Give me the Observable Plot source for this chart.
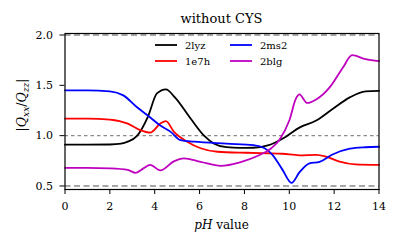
<!DOCTYPE html>
<html><head><meta charset="utf-8">
<script src="https://cdn.jsdelivr.net/npm/d3@7"></script>
<script src="https://cdn.jsdelivr.net/npm/@observablehq/plot@0.6"></script>
<style>body{margin:0;background:#fff} svg{display:block}</style>
</head><body><div id="chart"></div>
<script>
const seriesNames = ["2lyz", "1e7h", "2ms2", "2blg"];
const seriesColors = ["#000000", "#ff0000", "#0000ff", "#bf00bf"];

const ph_2lyz = [0, 1, 2, 2.5, 2.8, 3.2, 3.7, 4.1, 4.5, 4.9, 5.6, 6.2, 6.65, 7.2, 7.8, 8.4, 9.0, 9.85, 10.45, 11.2, 11.9, 12.7, 13.4, 14];
const q_2lyz  = [0.91, 0.91, 0.912, 0.92, 0.94, 0.995, 1.19, 1.42, 1.46, 1.38, 1.17, 1.0, 0.92, 0.885, 0.878, 0.88, 0.9, 0.99, 1.08, 1.15, 1.26, 1.38, 1.44, 1.445];

const ph_1e7h = [0, 1, 2, 2.8, 3.35, 3.8, 4.25, 4.5, 4.85, 5.45, 6.05, 6.8, 8.1, 9.0, 9.7, 10.45, 11.2, 11.6, 12.2, 12.95, 14];
const q_1e7h  = [1.17, 1.17, 1.16, 1.12, 1.055, 1.03, 1.12, 1.145, 1.04, 0.94, 0.875, 0.84, 0.83, 0.825, 0.82, 0.805, 0.81, 0.795, 0.745, 0.715, 0.71];

const ph_2ms2 = [0, 1, 2, 2.6, 3.2, 3.75, 4.25, 4.7, 5.15, 5.75, 7.2, 8.4, 8.9, 9.25, 9.7, 10.1, 10.45, 10.9, 11.35, 11.9, 12.7, 13.4, 14];
const q_2ms2  = [1.45, 1.45, 1.44, 1.40, 1.285, 1.19, 1.10, 1.04, 0.955, 0.94, 0.92, 0.905, 0.875, 0.81, 0.66, 0.53, 0.635, 0.725, 0.74, 0.81, 0.87, 0.885, 0.89];

const ph_2blg = [0, 1, 2, 2.8, 3.15, 3.5, 3.8, 4.25, 4.85, 5.3, 6.05, 6.95, 7.8, 8.6, 9.2, 9.55, 10.0, 10.3, 10.45, 10.8, 11.2, 11.8, 12.4, 12.8, 13.4, 14];
const q_2blg  = [0.68, 0.68, 0.675, 0.66, 0.63, 0.675, 0.71, 0.655, 0.745, 0.775, 0.74, 0.70, 0.735, 0.80, 0.875, 0.955, 1.15, 1.37, 1.41, 1.325, 1.36, 1.48, 1.68, 1.80, 1.76, 1.74];

const refLong = [2.0, 0.5];
const refShort = [1.0];
const xTicks = [0, 2, 4, 6, 8, 10, 12, 14];
const yTicks = [0.5, 1.0, 1.5, 2.0];
const titleText = "without CYS";

const seriesData = {
  "2lyz": [ph_2lyz, q_2lyz],
  "1e7h": [ph_1e7h, q_1e7h],
  "2ms2": [ph_2ms2, q_2ms2],
  "2blg": [ph_2blg, q_2blg]
};
const rows = [];
for (const name of seriesNames) {
  const [xs, ys] = seriesData[name];
  xs.forEach((x, i) => rows.push({series: name, ph: x, q: ys[i]}));
}

const serif = "'DejaVu Serif', serif";
const plot = Plot.plot({
  width: 399, height: 245,
  marginLeft: 64.5, marginRight: 20.5, marginTop: 33, marginBottom: 56,
  style: {fontFamily: serif, fontSize: "11px", background: "white", color: "black"},
  x: {domain: [0, 14], label: null},
  y: {domain: [0.465, 2.015], label: null},
  color: {type: "ordinal", domain: seriesNames, range: seriesColors},
  marks: [
    Plot.ruleY(refLong, {stroke: "#8a8a8a", strokeWidth: 1.4, strokeDasharray: "6,3.5"}),
    Plot.ruleY(refShort, {stroke: "#8a8a8a", strokeWidth: 1.4, strokeDasharray: "3.5,3"}),
    Plot.line(rows, {x: "ph", y: "q", z: "series", stroke: "series", strokeWidth: 1.8, curve: "monotone-x"}),
    Plot.frame({stroke: "black", strokeWidth: 1.2}),
    Plot.axisX({ticks: xTicks, tickSize: 5, tickPadding: 8, label: null, fontSize: 11}),
    Plot.axisY({ticks: yTicks, tickFormat: d3.format(".1f"), tickSize: 5, tickPadding: 7, label: null, fontSize: 11})
  ]
});
document.getElementById("chart").appendChild(plot);

const svg = d3.select(plot);
svg.selectAll("text").attr("font-family", serif);
// title
svg.append("text").attr("x", 221.5).attr("y", 22.5).attr("text-anchor", "middle")
  .attr("font-family", serif).attr("font-size", 13).attr("fill", "black").text(titleText);

// x label
const xl = svg.append("text").attr("x", 221.5).attr("y", 229).attr("text-anchor", "middle")
  .attr("font-family", serif).attr("font-size", 12).attr("fill", "black");
xl.append("tspan").attr("font-style", "italic").text("pH");
xl.append("tspan").text(" value");

// y label
const yl = svg.append("text").attr("transform", "translate(26,105) rotate(-90)").attr("text-anchor", "middle")
  .attr("font-family", serif).attr("font-size", 12.5).attr("fill", "black");
yl.append("tspan").text("|");
yl.append("tspan").attr("font-style", "italic").text("Q");
yl.append("tspan").attr("font-style", "italic").attr("font-size", 9).attr("dy", 3).text("xx");
yl.append("tspan").attr("dy", -3).text("/");
yl.append("tspan").attr("font-style", "italic").text("Q");
yl.append("tspan").attr("font-style", "italic").attr("font-size", 9).attr("dy", 3).text("zz");
yl.append("tspan").attr("dy", -3).text("|");

// legend
const legendPos = [[155, 45], [155, 61], [230, 45], [230, 61]];
seriesNames.forEach((name, i) => {
  const [lx, ly] = legendPos[i];
  svg.append("line").attr("x1", lx).attr("x2", lx + 22).attr("y1", ly).attr("y2", ly)
    .attr("stroke", seriesColors[i]).attr("stroke-width", 1.8);
  svg.append("text").attr("x", lx + 30).attr("y", ly + 3.5).attr("text-anchor", "start")
    .attr("font-family", serif).attr("font-size", 10).attr("fill", "black").text(name);
});
</script>
</body></html>
